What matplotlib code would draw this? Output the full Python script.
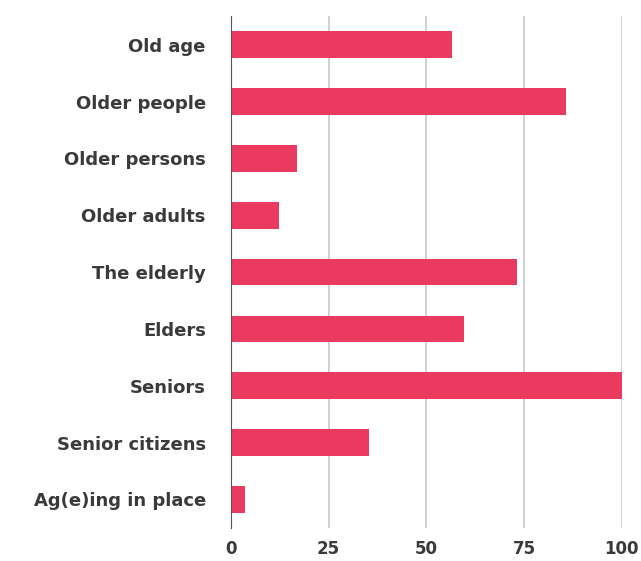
import matplotlib.pyplot as plt

labels = ["Old age", "Older people", "Older persons", "Older adults", "The elderly",
          "Elders", "Seniors", "Senior citizens", "Ag(e)ing in place"]
values = [56.5, 85.7, 16.9, 12.3, 73.1, 59.6, 100, 35.3, 3.6]
x_ticks = [0, 25, 50, 75, 100]

fig = plt.figure(figsize=(6.41, 5.61), dpi=100)
ax = fig.add_axes([0.360, 0.059, 0.610, 0.912])

y = list(range(len(labels)))
ax.barh(y, values, height=0.47, color="#EA3A60", zorder=3)

ax.set_ylim(len(labels) - 0.5, -0.5)
ax.set_xlim(0, 100)
ax.set_xticks(x_ticks)
ax.set_yticks(y)
ax.set_yticklabels(labels, fontsize=13, fontweight="bold", color="#3a3a3a")
ax.set_xticklabels([str(t) for t in x_ticks], fontsize=12, fontweight="bold", color="#3a3a3a")

ax.grid(axis="x", color="#c8c8c8", linewidth=1.2, zorder=0)
for s in ["top", "right", "bottom"]:
    ax.spines[s].set_visible(False)
ax.spines["left"].set_color("#555555")
ax.spines["left"].set_zorder(4)
ax.tick_params(axis="y", length=0, pad=18)
ax.tick_params(axis="x", length=0, pad=9)

fig.savefig("out.png", dpi=100)
